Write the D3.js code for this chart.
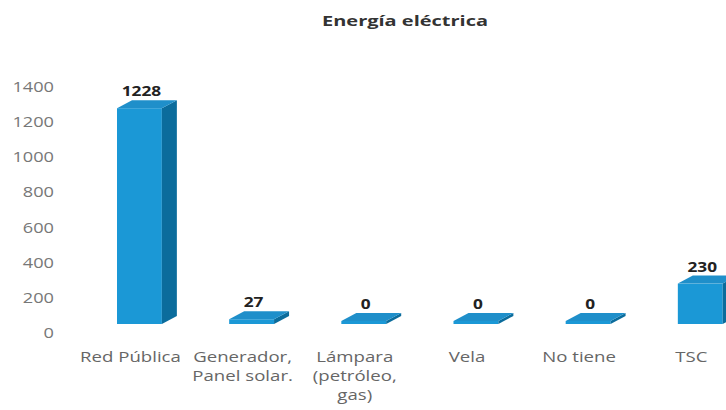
<!DOCTYPE html>
<html><head><meta charset="utf-8">
<script src="https://cdn.jsdelivr.net/npm/d3@7"></script>
<style>body{margin:0;background:#fff}svg{display:block}</style>
</head><body>
<script>
const categories = ["Red Pública", "Generador,\nPanel solar.", "Lámpara\n(petróleo,\ngas)", "Vela", "No tiene", "TSC"];
const values = [1228, 27, 0, 0, 0, 230];
const yTicks = [0, 200, 400, 600, 800, 1000, 1200, 1400];
const title = "Energía eléctrica";

const W = 726, H = 410;
const svg = d3.select("body").append("svg").attr("width", W).attr("height", H);

const yAxis = d3.scaleLinear().domain([0, 1400]).range([333, 87]);
const yBar = d3.scaleLinear().domain([0, 1400]).range([324, 324 - 246]);
const x = d3.scaleBand().domain(categories).range([49.7, 790]).paddingInner(0.6).paddingOuter(0.6);
const dx = 15, dy = -8;
const FONT = "Open Sans, sans-serif";

svg.append("text").attr("transform", "translate(405,26) scale(1.48,1)").attr("text-anchor", "middle")
  .attr("font-family", FONT).attr("font-weight", "bold").attr("font-size", 13.5)
  .attr("fill", "#333").text(title);

const ax = svg.append("g").attr("transform", "translate(54,0)")
  .call(d3.axisLeft(yAxis).tickValues(yTicks).tickFormat(d3.format("d")).tickSize(0).tickPadding(0));
ax.select(".domain").remove();
ax.selectAll("text").attr("font-family", FONT).attr("font-size", 14)
  .attr("transform", "scale(1.3,1)").attr("fill", "#777");

const g = svg.append("g");
values.forEach((v, i) => {
  const c = categories[i];
  const x0 = x(c), x1 = x(c) + x.bandwidth();
  const yt = yBar(v), yb = yBar(0);
  const thick = v === 0 ? 3 : 0;
  const ytop = yt - thick;
  g.append("rect").attr("x", x0).attr("y", ytop).attr("width", x1 - x0).attr("height", yb - ytop).attr("fill", "#1b98d6");
  g.append("path").attr("d", `M${x1},${ytop}L${x1+dx},${ytop+dy}L${x1+dx},${yb+dy}L${x1},${yb}Z`).attr("fill", "#0b6c9c");
  g.append("path").attr("d", `M${x0},${ytop}L${x0+dx},${ytop+dy}L${x1+dx},${ytop+dy}L${x1},${ytop}Z`).attr("fill", "#1f8fca");
  g.append("text").attr("transform", `translate(${(x0 + x1) / 2 + 2},${ytop + dy - 4}) scale(1.28,1)`)
    .attr("text-anchor", "middle")
    .attr("font-family", FONT).attr("font-weight", "bold").attr("font-size", 13.5)
    .attr("fill", "#222").text(v);
  const lines = c.split("\n");
  const t = g.append("text").attr("text-anchor", "middle")
    .attr("transform", `translate(${(x0 + x1) / 2 - 9},0) scale(1.33,1)`)
    .attr("font-family", FONT).attr("font-size", 14).attr("fill", "#666");
  lines.forEach((ln, j) => {
    t.append("tspan").attr("x", 0).attr("y", 362 + j * 19).text(ln);
  });
});
</script>
</body></html>
